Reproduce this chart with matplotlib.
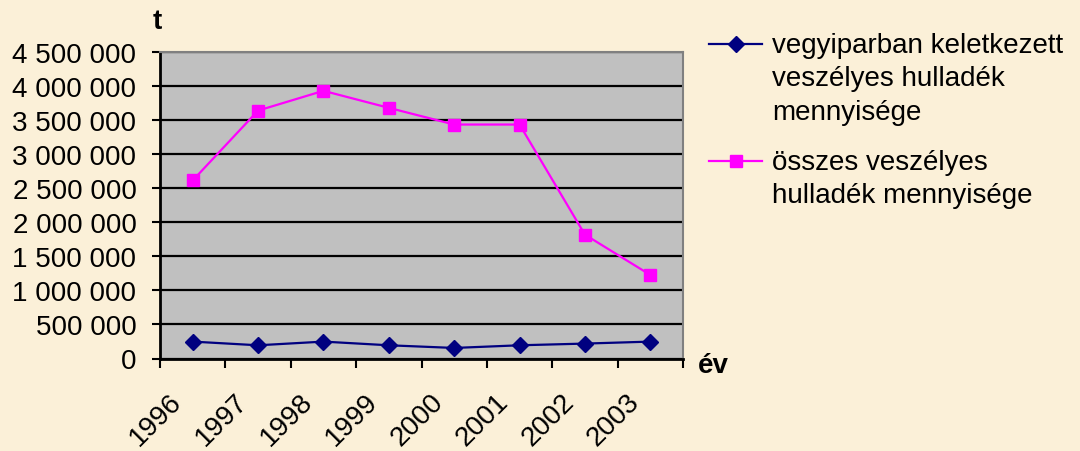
import matplotlib
matplotlib.use("Agg")
import matplotlib.pyplot as plt
from matplotlib.ticker import FixedLocator, FuncFormatter
from matplotlib.transforms import blended_transform_factory, offset_copy

years = ["1996", "1997", "1998", "1999", "2000", "2001", "2002", "2003"]
vegyipar = [248000, 194000, 248000, 194000, 155000, 194000, 219000, 248000]
osszes = [2614000, 3640000, 3930000, 3680000, 3435000, 3435000, 1818000, 1227000]
label_vegyipar = ["vegyiparban keletkezett", "veszélyes hulladék", "mennyisége"]
label_osszes = ["összes veszélyes", "hulladék mennyisége"]
y_ticks = [0, 500000, 1000000, 1500000, 2000000, 2500000, 3000000, 3500000, 4000000, 4500000]

plt.rcParams['font.family'] = ['Liberation Sans', 'DejaVu Sans']
FS = 20
NAVY = '#000080'
MAGENTA = '#FF00FF'

fig = plt.figure(figsize=(10.8, 4.52), dpi=100)
fig.patch.set_facecolor('#FBF0D8')
ax = fig.add_axes([160/1080, 1-359.5/452, (683-160)/1080, (359.5-53)/452])
ax.set_facecolor('#C0C0C0')

x = list(range(len(years)))
ax.plot(x, vegyipar, color=NAVY, lw=1.6, marker='D', markersize=8.5, zorder=3)
ax.plot(x, osszes, color=MAGENTA, lw=1.6, marker='s', markersize=9, zorder=3)

ax.set_xlim(-0.5, len(years) - 0.5)
ax.set_ylim(0, 4500000)
ax.set_yticks(y_ticks)
ax.yaxis.set_major_formatter(FuncFormatter(lambda v, p: f"{v:,.0f}".replace(",", " ")))
ax.grid(axis='y', color='black', lw=1.6, zorder=1)
ax.set_axisbelow(True)

ax.xaxis.set_major_locator(FixedLocator([i - 0.5 for i in range(len(years) + 1)]))
ax.xaxis.set_major_formatter(FuncFormatter(lambda v, p: ""))
ax.tick_params(axis='x', which='major', direction='out', length=6.5, width=1.5, color='black')
ax.tick_params(axis='y', direction='out', length=6, width=1.5, labelsize=FS, pad=11)

# rotated category labels
blend = blended_transform_factory(ax.transData, ax.transAxes)
lab_tr = offset_copy(blend, fig=fig, x=-24, y=-30, units='dots')
for i, yr in enumerate(years):
    ax.text(i, 0, yr, transform=lab_tr, rotation=45, rotation_mode='anchor',
            ha='right', va='top', fontsize=FS, clip_on=False)

for s in ['left', 'bottom']:
    ax.spines[s].set_color('black')
    ax.spines[s].set_linewidth(2)
for s in ['right', 'top']:
    ax.spines[s].set_color('#808080')
    ax.spines[s].set_linewidth(1.5)

fig.text(157/1080, 1-22/452, "t", fontsize=FS, fontweight='bold', ha='center', va='center')
fig.text(698/1080, 1-366/452, "év", fontsize=FS, fontweight='bold', ha='left', va='center')

# legend (drawn manually to match first-line handle alignment)
ov = fig.add_axes([0, 0, 1, 1], facecolor='none')
ov.set_xlim(0, 1080)
ov.set_ylim(452, 0)
ov.axis('off')
entries = [(NAVY, 'D', 8, 45, 53, label_vegyipar),
           (MAGENTA, 's', 8.5, 162, 170, label_osszes)]
for color, mk, ms, hy, base, lines in entries:
    ov.plot([709, 762], [hy, hy], color=color, lw=1.6)
    ov.plot([736], [hy], color=color, marker=mk, markersize=ms, ls='none')
    for k, line in enumerate(lines):
        ov.text(772, base + 33.5 * k, line, fontsize=FS, ha='left', va='baseline')

fig.savefig("out.png", dpi=100, facecolor=fig.get_facecolor())
